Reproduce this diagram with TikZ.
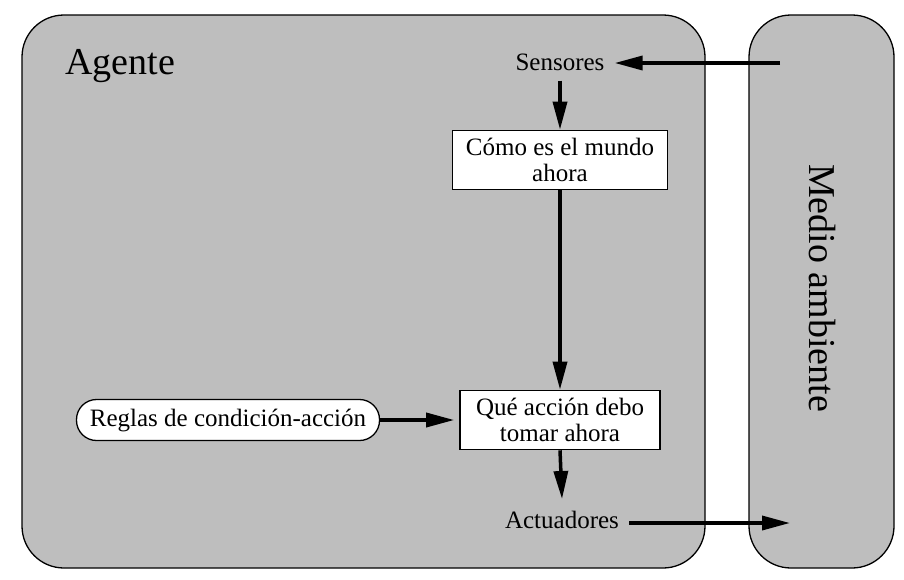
\documentclass[tikz,border=0pt]{standalone}
\usepackage{fontspec}
\setmainfont{Liberation Serif}
\usetikzlibrary{arrows.meta, positioning}
\definecolor{agentgray}{RGB}{190,190,190}

\begin{document}
\begin{tikzpicture}[x=1pt, y=-1pt,
  frame/.style = {draw, line width=1.3pt, fill=agentgray, rounded corners=42pt},
  textnode/.style = {font=\fontsize{25}{26}\selectfont, inner sep=10pt},
  boxnode/.style = {draw, line width=1.6pt, fill=white, align=center,
    font=\fontsize{25}{26}\selectfont, minimum height=59pt, inner sep=2pt},
  flow/.style = {line width=3.5pt, -{Triangle[length=28pt, width=14pt]}}]
\useasboundingbox (0,0) rectangle (904,579);
\draw[frame] (22,15) rectangle (705,568);
\draw[frame] (749,15) rectangle (894,568);
\node (agente) at (120,66) {\fontsize{38}{40}\selectfont Agente};
\node[rotate=-90] (medio) at (822,288) {\fontsize{38}{40}\selectfont Medio ambiente};
\node[textnode] (sens) at (560,62) {Sensores};
\node[boxnode, minimum width=215pt] (mundo) at (560,160) {Cómo es el mundo\\ahora};
\node[boxnode, minimum width=200pt] (accion) at (560,420) {Qué acción debo\\tomar ahora};
\node[draw, line width=1.3pt, fill=white, rounded corners=20pt, minimum height=41pt,
  minimum width=303pt, font=\fontsize{25}{26}\selectfont, inner sep=2pt] (reglas) at (228,420) {Reglas de condición-acción};
\node[textnode] (act) at (562,520) {Actuadores};
\coordinate (envin) at (780,63);
\coordinate (envout) at (790,523);
\draw[flow] (envin) -- (sens.east |- envin);
\draw[flow] (sens.south) -- (mundo.north);
\draw[flow] (mundo.south) -- (accion.north);
\draw[flow] (reglas.east) -- ([xshift=-5pt]accion.west);
\draw[flow] (accion.south) -- ([yshift=2pt]act.north);
\draw[flow] (act.east |- envout) -- (envout);
\end{tikzpicture}
\end{document}
